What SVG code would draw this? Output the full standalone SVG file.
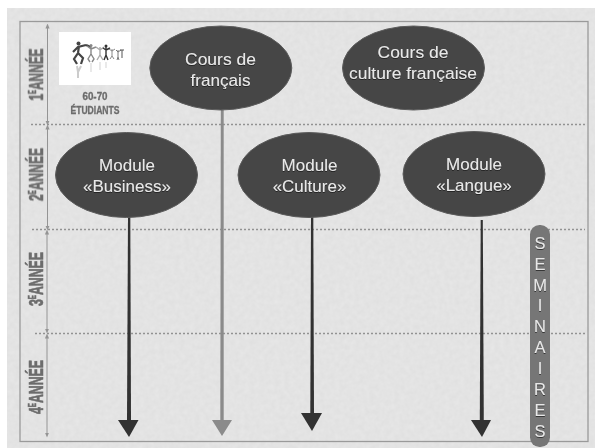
<svg xmlns="http://www.w3.org/2000/svg" width="595" height="448" viewBox="0 0 595 448">
<style>
.node{fill:#464646;stroke:#5c5c5c;stroke-width:1}
.lbl{font-family:"Liberation Sans",Arial,sans-serif;font-size:17px;fill:#e8e8e8;text-anchor:middle;filter:url(#sh)}
.sem{font-family:"Liberation Sans",Arial,sans-serif;font-size:16.5px;fill:#e8e8e8;text-anchor:middle;filter:url(#sh)}
.year{font-family:"Liberation Sans Narrow","Liberation Sans",Arial,sans-serif;font-weight:bold;font-size:20px;fill:#6c6c6c;stroke:#6c6c6c;stroke-width:0.700;text-anchor:middle;filter:url(#soft)}
.sm{font-family:"Liberation Sans Narrow","Liberation Sans",Arial,sans-serif;font-weight:bold;font-size:10px;fill:#6c6c6c;stroke:#6c6c6c;stroke-width:0.300;text-anchor:middle;filter:url(#soft)}
.dash{stroke:#929292;stroke-width:1.300;stroke-dasharray:2 2;fill:none}
.axis{stroke:#949494;stroke-width:1;fill:none;marker-start:url(#ya);marker-end:url(#ya)}
.fig{stroke:#555;stroke-width:1.400;fill:none;filter:url(#soft)}
.dark{fill:#303030;filter:url(#soft)}
.grey{fill:#8b8b8b;filter:url(#soft)}
</style>
<defs>
<filter id="sh" x="-10%" y="-20%" width="120%" height="140%"><feGaussianBlur in="SourceGraphic" stdDeviation="0.35" result="t"/><feDropShadow in="t" dx="0" dy="0.7" stdDeviation="0.5" flood-color="#111" flood-opacity="0.9"/></filter>
<filter id="soft" x="-10%" y="-10%" width="120%" height="120%"><feGaussianBlur stdDeviation="0.45"/></filter>
<filter id="tex" x="0" y="0" width="100%" height="100%"><feTurbulence type="fractalNoise" baseFrequency="0.2" numOctaves="2" seed="4"/><feColorMatrix values="0.07 0 0 0 0.735 0.07 0 0 0 0.735 0.07 0 0 0 0.735 0 0 0 0 1"/></filter>
<marker id="ya" viewBox="0 0 6 6" refX="3" refY="3" markerWidth="5" markerHeight="5" orient="auto-start-reverse"><path d="M0 0.500L6 3L0 5.500z" fill="#949494"/></marker>
</defs>
<rect width="595" height="448" fill="#fff"/>
<rect x="7" y="8" width="588" height="440" fill="#c4c4c4" filter="url(#tex)"/>
<rect x="20" y="21.500" width="568" height="420" fill="none" stroke="#9a9a9a" stroke-width="1.300"/>
<g id="grid">
<path class="dash" d="M31 124.500H585M32 229.500H585M35 333.500H585"/>
</g>
<g id="year-axes">
<path class="axis" d="M47.500 26V123"/><path class="axis" d="M47.500 127V228"/><path class="axis" d="M47 232V331"/><path class="axis" d="M47 336V435"/>
</g>
<g id="year-1"><text class="year" transform="translate(43 74.500) rotate(-90)" textLength="52" lengthAdjust="spacingAndGlyphs">1<tspan font-size="10" dy="-7">E</tspan><tspan dy="7">ANNÉE</tspan></text></g>
<g id="year-2"><text class="year" transform="translate(43 174.500) rotate(-90)" textLength="53" lengthAdjust="spacingAndGlyphs">2<tspan font-size="10" dy="-7">E</tspan><tspan dy="7">ANNÉE</tspan></text></g>
<g id="year-3"><text class="year" transform="translate(43 279) rotate(-90)" textLength="54" lengthAdjust="spacingAndGlyphs">3<tspan font-size="10" dy="-7">E</tspan><tspan dy="7">ANNÉE</tspan></text></g>
<g id="year-4"><text class="year" transform="translate(43 387) rotate(-90)" textLength="54" lengthAdjust="spacingAndGlyphs">4<tspan font-size="10" dy="-7">E</tspan><tspan dy="7">ANNÉE</tspan></text></g>
<g id="etudiants">
<rect x="59" y="32" width="72" height="53" fill="#fff"/>
<g class="fig">
<circle cx="78.500" cy="43.500" r="2" fill="#444" stroke="none"/>
<path d="M79 46L78 53L74 59L77 64M78 53L83 58L81 64M73 52L78 47L86 45M86 45L91 47" stroke-width="2.200" stroke="#444"/>
<path d="M77 66L78 72L81 66M78 72V78" stroke="#ccc" stroke-width="2"/>
<path d="M91 47L91 54M91 49L87 46M91 49L96 47M91 54L88 59L90 62M91 54L94 59L92 62" stroke="#888"/><circle cx="91" cy="45.500" r="1.500" fill="#888" stroke="none"/>
<path d="M100 47V55M100 50L96 47M100 50L104 47M100 55L97 60M100 55L103 60" stroke="#aaa"/>
<path d="M106 47V55M106 50L103 48M106 50L110 48M106 55L104 60M106 55L108 60" stroke="#333"/><circle cx="106" cy="46" r="1.500" fill="#333" stroke="none"/>
<path d="M112 49V56M112 51L109 49M112 51L115 49M112 56L110 59M112 56L114 59" stroke="#888" stroke-width="1"/>
<path d="M118 50V57M118 52L116 50M118 52L121 50M118 57L117 60M118 57L119 60" stroke="#777" stroke-width="1"/>
<path d="M122 50V58M120 50H124" stroke="#555" stroke-width="1"/>
<path d="M91 63V72M100 62V70M106 62V68" stroke="#e0e0e0"/>
</g>
<text class="sm" x="95" y="100" textLength="25" lengthAdjust="spacingAndGlyphs">60-70</text>
<text class="sm" x="95" y="113.500" textLength="49" lengthAdjust="spacingAndGlyphs">ÉTUDIANTS</text>
</g>
<g id="connectors">
<path class="grey" d="M220.800 110H223.700V421H220.300z"/>
<path class="grey" d="M212 420H232L222 436z"/>
<path class="dark" d="M128 216H130.300L131 421H127z"/>
<path class="dark" d="M311 216H313.300L314 414H310.300z"/>
<path class="dark" d="M480.700 220H482.800L483.800 421H479.800z"/>
<path class="dark" d="M118 420H138.500L129 437z"/>
<path class="dark" d="M301 413H322L312 431z"/>
<path class="dark" d="M471 420H491L482 437z"/>
</g>
<g id="cours-francais"><ellipse class="node" cx="220.800" cy="68" rx="71" ry="42"/><text class="lbl" x="220.500" y="65" textLength="71" lengthAdjust="spacingAndGlyphs">Cours de</text><text class="lbl" x="220.500" y="86" textLength="60" lengthAdjust="spacingAndGlyphs">français</text></g>
<g id="cours-culture"><ellipse class="node" cx="413.500" cy="68" rx="71" ry="42"/><text class="lbl" x="413" y="58" textLength="71" lengthAdjust="spacingAndGlyphs">Cours de</text><text class="lbl" x="413" y="79" textLength="128" lengthAdjust="spacingAndGlyphs">culture française</text></g>
<g id="module-business"><ellipse class="node" cx="126.500" cy="175" rx="71" ry="42.500"/><text class="lbl" x="127" y="171">Module</text><text class="lbl" x="127" y="192">«Business»</text></g>
<g id="module-culture"><ellipse class="node" cx="309" cy="175" rx="71" ry="42.500"/><text class="lbl" x="309.500" y="171">Module</text><text class="lbl" x="309.500" y="192">«Culture»</text></g>
<g id="module-langue"><ellipse class="node" cx="474" cy="174" rx="71" ry="42.500"/><text class="lbl" x="474" y="170">Module</text><text class="lbl" x="474" y="191">«Langue»</text></g>
<g id="seminaires">
<rect x="530" y="225" width="20" height="222" rx="9.500" fill="#767676"/>
<text class="sem" x="540" y="249">S</text><text class="sem" x="540" y="270">E</text><text class="sem" x="540" y="291">M</text><text class="sem" x="540" y="311">I</text><text class="sem" x="540" y="332">N</text><text class="sem" x="540" y="353">A</text><text class="sem" x="540" y="374">I</text><text class="sem" x="540" y="395">R</text><text class="sem" x="540" y="416">E</text><text class="sem" x="540" y="437">S</text>
</g>
</svg>
